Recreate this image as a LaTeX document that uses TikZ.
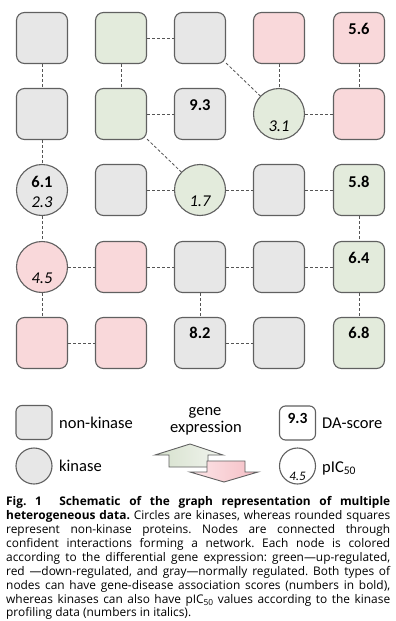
\documentclass[tikz,border=0pt]{standalone}
\usepackage{fontspec}
\setmainfont{Carlito}
\newfontfamily\capfont{Open Sans}
\definecolor{grayc}{HTML}{E7E7E7}
\definecolor{greenc}{HTML}{E3EBDC}
\definecolor{redc}{HTML}{F9D8DA}
\definecolor{bordc}{HTML}{606060}
\definecolor{edgec}{HTML}{555555}
\definecolor{garrL}{HTML}{D5E0CC}
\definecolor{garrR}{HTML}{F2F5EF}
\definecolor{rarrL}{HTML}{FCE6E8}
\definecolor{rarrR}{HTML}{F5BEC5}
\newcommand{\mysubs}[1]{\raisebox{-0.35ex}{\fontsize{0.7em}{1em}\selectfont #1}}
\frenchspacing
\begin{document}
\begin{tikzpicture}[x=1pt,y=-1pt,
  sq/.style={draw=bordc, line width=1.1pt, rounded corners=8pt, minimum width=51pt, minimum height=51pt, inner sep=0pt},
  circ/.style={circle, draw=bordc, line width=1.1pt, minimum size=51pt, inner sep=0pt},
  gr/.style={fill=grayc}, gn/.style={fill=greenc}, rd/.style={fill=redc},
  edge/.style={draw=edgec, dash pattern=on 3pt off 2pt, line width=0.8pt},
  da/.style={anchor=base, inner sep=0pt, font=\bfseries\fontsize{16.5}{16.5}\selectfont},
  ic/.style={anchor=base, inner sep=0pt, font=\itshape\fontsize{16.5}{16.5}\selectfont},
  lg/.style={anchor=base west, inner sep=0pt, font=\fontsize{16.5}{16.5}\selectfont},
  capl/.style={anchor=base west, inner sep=0pt, font=\capfont\fontsize{11.9}{13}\selectfont}
]
\useasboundingbox (0,0) rectangle (396,621);
\fill[white] (0,0) rectangle (396,621);

% grid nodes
\node[sq,gr] (n11) at (42,38) {};
\node[sq,gn] (n12) at (121,38) {};
\node[sq,gr] (n13) at (200,38) {};
\node[sq,rd] (n14) at (279,38) {};
\node[sq,rd] (n15) at (359,38) {};

\node[sq,gr] (n21) at (42,114) {};
\node[sq,gn] (n22) at (121,114) {};
\node[sq,gr] (n23) at (200,114) {};
\node[circ,gn] (n24) at (279,114) {};
\node[sq,rd] (n25) at (359,114) {};

\node[circ,gr] (n31) at (42,190) {};
\node[sq,gr] (n32) at (121,190) {};
\node[circ,gn] (n33) at (200,190) {};
\node[sq,gr] (n34) at (279,190) {};
\node[sq,gn] (n35) at (359,190) {};

\node[circ,rd] (n41) at (42,267) {};
\node[sq,rd] (n42) at (121,267) {};
\node[sq,gr] (n43) at (200,267) {};
\node[sq,gr] (n44) at (279,267) {};
\node[sq,gn] (n45) at (359,267) {};

\node[sq,rd] (n51) at (42,343) {};
\node[sq,rd] (n52) at (121,343) {};
\node[sq,gr] (n53) at (200,343) {};
\node[sq,gr] (n54) at (279,343) {};
\node[sq,gn] (n55) at (359,343) {};

% labels
\node[da] (t15) at (359,34) {5.6};
\node[da] (t23) at (200,110) {9.3};
\node[ic] (t24) at (279,131) {3.1};
\node[da] (t31a) at (42,187) {6.1};
\node[ic] (t31b) at (42,207) {2.3};
\node[ic] (t33) at (200,206) {1.7};
\node[da] (t35) at (359,187) {5.8};
\node[ic] (t41) at (42,283) {4.5};
\node[da] (t45) at (359,263) {6.4};
\node[da] (t53) at (200,338) {8.2};
\node[da] (t55) at (359,338) {6.8};

% edges
\draw[edge] (n11) -- (n21);
\draw[edge] (n12) -- (n13);
\draw[edge] (n12) -- (n22);
\draw[edge] (n13) -- (n24);
\draw[edge] (n14) -- (n24);
\draw[edge] (n15) -- (n25);
\draw[edge] (n22) -- (n23);
\draw[edge] (n24) -- (n25);
\draw[edge] (n21) -- (n31);
\draw[edge] (n22) -- (n33);
\draw[edge] (n32) -- (n33);
\draw[edge] (n33) -- (n34);
\draw[edge] (n34) -- (n35);
\draw[edge] (n31) -- (n41);
\draw[edge] (n35) -- (n45);
\draw[edge] (n41) -- (n42);
\draw[edge] (n42) -- (n43);
\draw[edge] (n43) -- (n44);
\draw[edge] (n44) -- (n45);
\draw[edge] (n41) -- (n51);
\draw[edge] (n43) -- (n53);
\draw[edge] (n45) -- (n55);
\draw[edge] (n51) -- (n52);
\draw[edge] (n53) -- (n54);

% legend
\node[draw=bordc, line width=1.1pt, rounded corners=6pt, fill=grayc, minimum width=36pt, minimum height=34pt, inner sep=0pt] (lsq) at (34,422.5) {};
\node[lg] (lsqt) at (59,428) {non-kinase};
\node[circle, draw=bordc, line width=1.1pt, fill=grayc, minimum size=36pt, inner sep=0pt] (lci) at (34,466) {};
\node[lg] (lcit) at (59,471) {kinase};

\node[draw=bordc, line width=1.1pt, rounded corners=6pt, fill=white, minimum width=36pt, minimum height=34pt, inner sep=0pt] (lda) at (297.5,423) {};
\node[da, font=\bfseries\fontsize{15.5}{15.5}\selectfont] (ldan) at (297.5,423) {9.3};
\node[lg] (ldat) at (322,428) {DA-score};
\node[circle, draw=bordc, line width=1.1pt, fill=white, minimum size=36pt, inner sep=0pt] (lpc) at (297.5,466) {};
\node[ic, font=\itshape\fontsize{13}{13}\selectfont] (lpcn) at (297.5,480) {4.5};
\node[lg] (lpct) at (322,472) {pIC\mysubs{50}};

\node[anchor=base, inner sep=0pt, font=\fontsize{16.5}{16.5}\selectfont] (ge1) at (205,415) {gene};
\node[anchor=base, inner sep=0pt, font=\fontsize{16.5}{16.5}\selectfont] (ge2) at (206,432) {expression};

% arrows
\shade[left color=garrL, right color=garrR, draw=bordc, line width=0.9pt]
  (190,444) -- (223,455) -- (208,455) -- (208,467) -- (169,467) -- (169,455) -- (155,455) -- cycle;
\shade[left color=rarrL, right color=rarrR, draw=bordc, line width=0.9pt]
  (207,461) -- (245,461) -- (245,472) -- (258,472) -- (224,482) -- (190,472) -- (207,472) -- cycle;

% caption
\node[capl] (c1) at (6,505.7) {\makebox[384pt][s]{\bfseries Fig. 1 \ Schematic of the graph representation of multiple}};
\node[capl] (c2) at (6,519.6) {\makebox[384pt][s]{\textbf{heterogeneous data.} Circles are kinases, whereas rounded squares}};
\node[capl] (c3) at (6,533.5) {\makebox[384pt][s]{represent non-kinase proteins. Nodes are connected through}};
\node[capl] (c4) at (6,547.4) {\makebox[384pt][s]{confident interactions forming a network. Each node is colored}};
\node[capl] (c5) at (6,561.3) {\makebox[384pt][s]{according to the differential gene expression: green—up-regulated,}};
\node[capl] (c6) at (6,575.2) {\makebox[384pt][s]{red —down-regulated, and gray—normally regulated. Both types of}};
\node[capl] (c7) at (6,589.1) {\makebox[384pt][s]{nodes can have gene-disease association scores (numbers in bold),}};
\node[capl] (c8) at (6,603.0) {\makebox[384pt][s]{whereas kinases can also have pIC\mysubs{50} values according to the kinase}};
\node[capl] (c9) at (6,616.9) {profiling data (numbers in italics).};
\end{tikzpicture}
\end{document}
